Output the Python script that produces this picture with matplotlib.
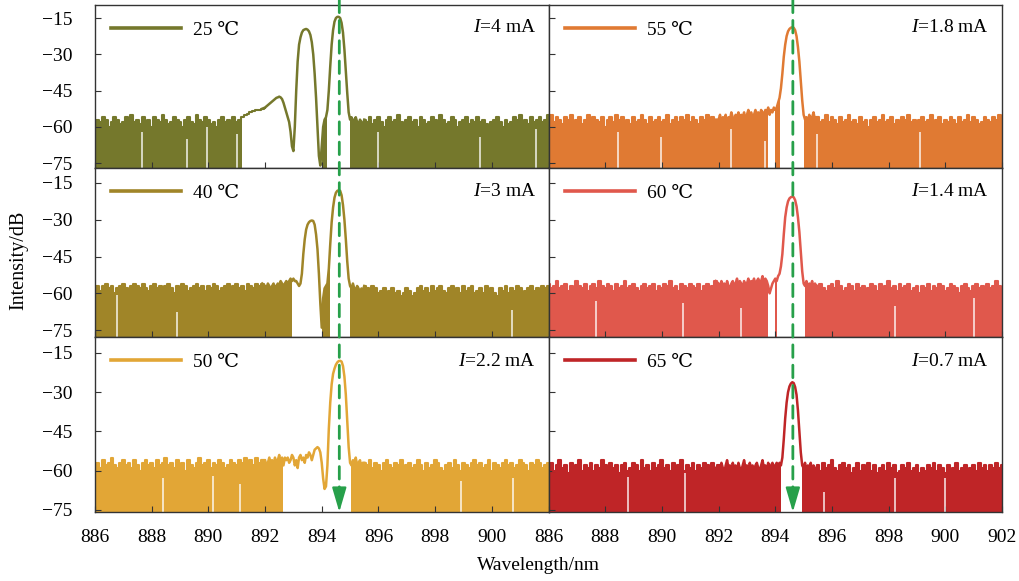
import numpy as np
import matplotlib.pyplot as plt
from matplotlib.patches import ConnectionPatch

plt.rcParams['font.family'] = ['Liberation Serif', 'DejaVu Serif', 'Noto Sans CJK SC']
plt.rcParams['mathtext.fontset'] = 'custom'
plt.rcParams['mathtext.rm'] = 'Liberation Serif'
plt.rcParams['mathtext.it'] = 'Liberation Serif:italic'

# wavelength grid: 0.1 nm steps on the noise floor, 0.05 nm around the lasing lines
wl_left = np.round(np.arange(886.0, 891.95, 0.1), 2)
wl_mid = np.round(np.arange(892.0, 895.46, 0.05), 2)
wl_right = np.round(np.arange(895.5, 902.05, 0.1), 2)
wl = np.concatenate([wl_left, wl_mid, wl_right])
n_left, n_mid = len(wl_left), len(wl_mid)

labels = ['25 ℃', '55 ℃', '40 ℃', '60 ℃', '50 ℃', '65 ℃']
currents = ['4', '1.8', '3', '1.4', '2.2', '0.7']
colors = ['#75782c', '#e07a33', '#a08528', '#e0584c', '#e2a636', '#bf2527']
peak_wl = 894.62
row_ylims = [(-77, -9.6), (-77.8, -8.9), (-75.8, -8.9)]

# spectra, dB  (left noise | line region | right noise)
spec_25 = [
    -59, -57, -58, -56, -57, -60, -58, -56, -57, -59,
    -58, -56, -57, -55, -58, -57, -59, -56, -58, -57,
    -60, -56, -57, -58, -55, -57, -59, -58, -56, -57,
    -58, -60, -57, -56, -58, -59, -55, -57, -58, -56,
    -57, -59, -58, -60, -57, -56, -58, -57, -59, -56,
    -58, -57, -56, -55, -54.5, -54, -53.5, -53, -53, -52.5,
] + [
    -52, -51.5, -51, -50.5, -50, -49.5, -49, -48.5, -48, -47.8,
    -47.5, -47.8, -48.5, -50, -52, -54, -56, -58, -62, -68,
    -70, -60, -45, -33, -26, -23, -21, -20, -19.7, -19.5,
    -19.8, -20.5, -22, -25, -30, -38, -48, -60, -72, -76,
    -68, -60, -57, -56, -53, -45, -35, -26, -20, -16.5,
    -15, -14.5, -14.5, -15, -17, -21, -28, -37, -46, -54,
    -57, -56, -58, -57, -56, -58, -59, -57, -58, -60,
] + [
    -57, -58, -56, -59, -57, -56, -58, -60, -57, -56,
    -58, -57, -55, -58, -59, -57, -56, -58, -57, -60,
    -56, -57, -59, -58, -56, -57, -58, -55, -57, -59,
    -58, -56, -57, -60, -58, -57, -56, -59, -57, -58,
    -56, -58, -57, -59, -61, -58, -57, -56, -58, -60,
    -57, -59, -58, -56, -57, -55, -58, -57, -59, -56,
    -58, -57, -56, -58, -57, -55,
]

spec_40 = [
    -58, -57, -59, -57, -56, -58, -57, -60, -58, -57,
    -56, -58, -59, -57, -56, -57, -58, -56, -58, -59,
    -57, -56, -58, -57, -59, -57, -56, -58, -60, -57,
    -58, -56, -57, -59, -58, -57, -56, -58, -57, -59,
    -57, -58, -56, -57, -59, -58, -57, -56, -58, -57,
    -56, -58, -57, -59, -56, -57, -58, -56, -57, -56,
] + [
    -57, -58, -56, -57, -59, -57, -56, -58, -57, -56,
    -57, -55, -56, -57, -56, -55, -56, -55, -54, -55,
    -54, -55, -55, -56, -57, -56, -52, -44, -38, -34,
    -32, -31, -30.5, -30.3, -30.5, -32, -36, -42, -52, -64,
    -74, -62, -58, -57, -56, -50, -40, -31, -25, -21,
    -19, -18.2, -18, -18.2, -20, -24, -30, -38, -47, -54,
    -57, -58, -56, -58, -59, -57, -58, -60, -58, -59,
] + [
    -57, -58, -59, -57, -58, -60, -59, -58, -61, -59,
    -58, -60, -59, -61, -60, -58, -59, -61, -60, -58,
    -57, -59, -58, -60, -57, -59, -58, -57, -59, -60,
    -58, -57, -59, -58, -60, -57, -59, -58, -57, -60,
    -59, -58, -60, -57, -59, -58, -60, -61, -58, -59,
    -57, -60, -58, -59, -57, -58, -60, -59, -58, -57,
    -59, -58, -60, -57, -58, -57,
]

spec_50 = [
    -58, -57, -59, -56, -58, -57, -55, -58, -59, -57,
    -56, -58, -57, -59, -56, -58, -60, -57, -56, -58,
    -57, -59, -56, -58, -57, -55, -58, -57, -59, -56,
    -58, -57, -60, -56, -58, -59, -57, -55, -58, -57,
    -56, -59, -57, -58, -56, -57, -59, -58, -56, -57,
    -58, -56, -57, -55, -57, -56, -58, -55, -57, -56,
] + [
    -56, -58, -57, -55, -57, -56, -58, -55, -57, -56,
    -54, -57, -55, -58, -55, -56, -55, -57, -56, -54,
    -55, -58, -56, -59, -55, -54, -56, -55, -57, -54,
    -55, -53, -54, -56, -54, -52, -51.5, -51, -51.5, -53,
    -57, -63, -67, -66, -58, -44, -34, -27, -23, -21,
    -19.5, -18.6, -18.1, -18, -18.3, -20, -24, -31, -41, -51,
    -57, -58, -56, -57, -55, -58, -57, -56, -59, -57,
] + [
    -57, -58, -56, -59, -57, -58, -60, -57, -56, -58,
    -59, -57, -58, -56, -60, -58, -57, -59, -58, -56,
    -58, -60, -57, -59, -58, -56, -57, -59, -60, -58,
    -57, -59, -56, -58, -60, -57, -58, -59, -57, -56,
    -58, -57, -59, -58, -56, -60, -57, -58, -59, -57,
    -56, -58, -57, -59, -58, -56, -57, -58, -60, -57,
    -58, -56, -57, -59, -58, -57,
]

spec_55 = [
    -57, -55, -58, -56, -57, -59, -56, -57, -55, -58,
    -57, -56, -59, -57, -55, -58, -56, -57, -58, -56,
    -60, -57, -56, -58, -55, -57, -56, -58, -57, -59,
    -56, -58, -57, -55, -57, -59, -56, -58, -57, -56,
    -58, -57, -55, -59, -57, -56, -58, -56, -57, -55,
    -58, -56, -57, -59, -56, -57, -55, -58, -56, -57,
] + [
    -57, -55, -58, -56, -57, -55, -59, -56, -57, -54,
    -56, -58, -55, -56, -54, -57, -55, -56, -54, -58,
    -55, -53, -56, -54, -57, -55, -53, -55, -54, -56,
    -53, -54, -55, -53, -54, -52, -55, -53, -54, -52,
    -53, -52, -50, -48, -44, -38, -31, -26, -22.5, -20.5,
    -19.5, -19, -18.8, -19, -20, -22.5, -27, -33, -41, -49,
    -55, -57, -56, -58, -55, -57, -56, -54, -57, -56,
] + [
    -56, -58, -57, -55, -58, -56, -57, -59, -56, -58,
    -57, -55, -58, -57, -59, -56, -58, -57, -60, -57,
    -56, -58, -57, -55, -58, -57, -56, -59, -57, -58,
    -56, -57, -55, -58, -57, -59, -57, -56, -58, -57,
    -55, -58, -57, -56, -59, -57, -58, -56, -57, -59,
    -56, -58, -57, -55, -58, -56, -57, -59, -58, -56,
    -57, -58, -56, -57, -55, -58,
]

spec_60 = [
    -56, -58, -57, -55, -58, -57, -56, -59, -57, -58,
    -55, -57, -58, -56, -59, -57, -56, -58, -55, -57,
    -58, -56, -57, -59, -56, -58, -57, -55, -58, -57,
    -56, -58, -59, -57, -56, -58, -57, -56, -59, -57,
    -58, -56, -57, -55, -58, -57, -59, -56, -57, -58,
    -56, -57, -58, -56, -59, -57, -56, -58, -57, -55,
] + [
    -56, -58, -55, -57, -56, -58, -55, -57, -59, -56,
    -55, -57, -56, -54, -57, -55, -56, -58, -55, -57,
    -56, -54, -57, -55, -56, -54, -57, -55, -54, -56,
    -55, -53, -56, -54, -55, -57, -60, -58, -56, -55,
    -54, -55, -53, -52, -49, -44, -36, -29, -25, -22.5,
    -21.3, -20.8, -20.6, -20.8, -22, -24.5, -29, -35, -43, -51,
    -56, -57, -55, -58, -56, -57, -55, -58, -56, -57,
] + [
    -57, -56, -58, -59, -57, -56, -58, -55, -57, -59,
    -58, -56, -57, -59, -56, -58, -57, -60, -58, -56,
    -57, -59, -56, -58, -57, -55, -58, -57, -59, -56,
    -58, -57, -56, -59, -58, -57, -60, -57, -58, -56,
    -59, -57, -58, -56, -57, -59, -58, -56, -57, -58,
    -60, -57, -56, -58, -59, -57, -56, -58, -57, -59,
    -56, -58, -57, -55, -57, -60,
]

spec_65 = [
    -59, -57, -60, -58, -56, -59, -58, -61, -57, -59,
    -58, -56, -60, -58, -59, -57, -60, -58, -59, -56,
    -58, -60, -57, -59, -58, -61, -58, -57, -60, -59,
    -57, -58, -60, -56, -59, -58, -60, -57, -59, -58,
    -56, -59, -58, -60, -57, -59, -58, -56, -60, -58,
    -59, -57, -60, -58, -59, -57, -58, -60, -57, -59,
] + [
    -58, -60, -57, -59, -61, -58, -56, -59, -58, -60,
    -57, -59, -58, -61, -57, -59, -60, -58, -56, -59,
    -58, -60, -57, -59, -58, -61, -58, -57, -59, -60,
    -58, -56, -59, -58, -60, -57, -59, -58, -57, -59,
    -58, -57, -58, -57, -58, -55, -48, -40, -34, -30,
    -27.8, -26.7, -26.2, -26.5, -28, -31, -37, -45, -53, -58,
    -59, -57, -60, -58, -59, -57, -60, -58, -59, -61,
] + [
    -58, -60, -57, -59, -58, -56, -59, -60, -58, -57,
    -59, -58, -61, -59, -57, -60, -58, -59, -57, -60,
    -58, -61, -59, -58, -60, -57, -59, -58, -61, -60,
    -58, -59, -57, -60, -59, -58, -61, -59, -60, -58,
    -59, -57, -60, -58, -59, -61, -58, -60, -59, -57,
    -60, -59, -58, -61, -59, -58, -60, -57, -59, -58,
    -60, -58, -59, -57, -59, -58,
]

spectra = [spec_25, spec_55, spec_40, spec_60, spec_50, spec_65]

# stretches where the noise floor is not filled (signal above the floor)
open_spans = [
    [(891.25, 893.97), (894.22, 894.97)],
    [(893.77, 893.96), (894.17, 895.0)],
    [(892.97, 894.0), (894.32, 895.0)],
    [(893.77, 893.96), (894.07, 894.18), (894.22, 895.03)],
    [(892.67, 895.03)],
    [(894.22, 894.92)],
]
# single-sample dropouts in the floor: (wavelength, top of gap in dB)
dropouts = [
    [(887.65, -62), (889.25, -65), (889.95, -60), (891.0, -63), (896.0, -62), (899.6, -64), (901.55, -61)],
    [(888.45, -62), (889.97, -64), (892.43, -61), (893.62, -66), (895.48, -63), (899.1, -62)],
    [(886.77, -60.5), (888.9, -67.7), (900.7, -67)],
    [(887.69, -63), (890.73, -64), (892.8, -66), (898.23, -65), (901.0, -62)],
    [(888.4, -63), (890.15, -62), (891.1, -65), (898.9, -64), (900.75, -63)],
    [(888.82, -62.5), (890.82, -61), (895.71, -68), (898.23, -63), (899.99, -63)],
]

fig = plt.figure(figsize=(10.2, 5.81), dpi=100)
gs = fig.add_gridspec(3, 2, left=0.0931, right=0.9824, top=0.9914, bottom=0.1188,
                      hspace=0, wspace=0, height_ratios=[163, 169, 175])
axes = np.array([[fig.add_subplot(gs[r, c]) for c in range(2)] for r in range(3)])

a0, a1 = n_left, n_left + n_mid
for i, ax in enumerate(axes.flat):
    r, c = divmod(i, 2)
    y = np.array(spectra[i], dtype=float)
    mask = np.ones(wl.size, dtype=bool)
    for a, b in open_spans[i]:
        mask &= ~((wl > a) & (wl < b))
    ax.fill_between(wl, y, -80, where=mask, step='mid', color=colors[i], lw=0)
    dx = [d[0] for d in dropouts[i]]
    dtop = [d[1] for d in dropouts[i]]
    ax.vlines(dx, -80, dtop, color='white', lw=1.1, alpha=0.9)
    # noise floor drawn as steps, the lasing region as a smooth trace
    ax.plot(wl[:a0 + 1], y[:a0 + 1], color=colors[i], lw=1.5, drawstyle='steps-mid')
    ax.plot(wl[a0 - 1:a1 + 1], y[a0 - 1:a1 + 1], color=colors[i], lw=1.8,
            solid_joinstyle='round', label=labels[i])
    ax.plot(wl[a1 - 1:], y[a1 - 1:], color=colors[i], lw=1.5, drawstyle='steps-mid')

    ax.set_xlim(886, 902)
    ax.set_ylim(*row_ylims[r])
    ax.set_xticks(np.arange(886, 901, 2) if c == 0 else np.arange(886, 903, 2))
    ax.set_yticks([-15, -30, -45, -60, -75])
    ax.tick_params(direction='in', length=4, width=0.8, labelsize=14, color='#333333')
    ax.tick_params(axis='y', pad=16)
    ax.tick_params(axis='x', pad=12)
    if c == 1:
        ax.tick_params(labelleft=False)
    if r < 2:
        ax.tick_params(labelbottom=False)
    for s in ax.spines.values():
        s.set_color('#333333')
        s.set_linewidth(1.0)

    leg = ax.legend(loc='upper left', frameon=False, fontsize=14, handlelength=3.6,
                    handletextpad=0.6, borderaxespad=0.55, borderpad=0.3)
    for h in leg.get_lines():
        h.set_linewidth(2.6)
    ax.text(0.972, 0.86, r'$\mathit{I}$=' + currents[i] + ' mA', transform=ax.transAxes,
            ha='right', va='center', fontsize=14)

# common lasing wavelength marker running through each column, solid head at the bottom
green = '#27a04a'
y_bot = row_ylims[2][0]
for c in range(2):
    con = ConnectionPatch(xyA=(peak_wl, -7.6), coordsA=axes[0, c].transData,
                          xyB=(peak_wl, y_bot + 6), coordsB=axes[2, c].transData,
                          arrowstyle='-', shrinkA=0, shrinkB=0, color=green, lw=2.0,
                          linestyle=(0, (4.5, 2.8)), zorder=5)
    fig.add_artist(con)
    axes[2, c].annotate('', xy=(peak_wl, y_bot), xytext=(peak_wl, y_bot + 8.5),
                        arrowprops=dict(arrowstyle='-|>,head_length=0.75,head_width=0.22',
                                        mutation_scale=20, color=green, lw=1.5,
                                        shrinkA=0, shrinkB=0),
                        annotation_clip=False, zorder=6)

fig.text(0.018, 0.552, 'Intensity/dB', rotation=90, ha='center', va='center', fontsize=14.5)
fig.text(0.528, 0.026, 'Wavelength/nm', ha='center', va='center', fontsize=14)

fig.savefig('out.png', dpi=100)
